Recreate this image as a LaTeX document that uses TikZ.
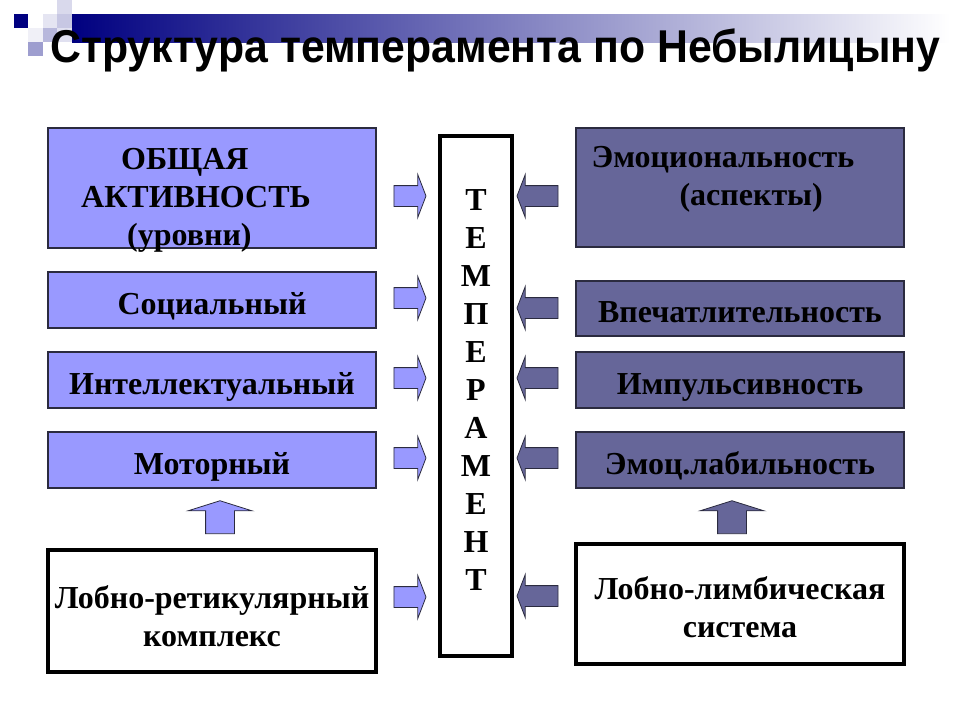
\documentclass[tikz,border=0pt]{standalone}
\usepackage{fontspec}
\setmainfont{Liberation Serif}
\setsansfont{Liberation Sans}
\usetikzlibrary{shapes.arrows}

\definecolor{lilac}{HTML}{9999FF}
\definecolor{slate}{HTML}{666699}
\definecolor{navy}{HTML}{000080}
\definecolor{edge}{HTML}{2B2B3F}

\tikzset{
	lbox/.style={rectangle,draw=edge,thick,fill=lilac,minimum width=164pt,minimum height=28pt,inner sep=0pt,
		text height=14pt,text depth=0pt},
	rbox/.style={lbox,fill=slate},
	wbox/.style={rectangle,draw=black,line width=2pt,fill=white,align=center,minimum width=164pt,inner sep=0pt},
	rarrow/.style={single arrow,draw=edge,fill=lilac,inner sep=0pt,text height=10pt,text depth=0pt,
		minimum height=16pt,minimum width=21pt,single arrow head extend=5.5pt,single arrow tip angle=138},
	larrow/.style={rarrow,fill=slate,minimum height=20.5pt,shape border rotate=180},
	uarrow/.style={single arrow,draw=edge,inner sep=0pt,text width=14pt,text height=0pt,text depth=0pt,
		minimum height=16.5pt,minimum width=31.5pt,single arrow head extend=8.75pt,single arrow tip angle=145,shape border rotate=90}
}

\begin{document}
\begin{tikzpicture}[x=0.5pt,y=-0.5pt,font=\bfseries\fontsize{16}{19}\selectfont]
	\useasboundingbox (0,0) rectangle (960,720);
	
	% header
	\shade[left color=navy,right color=white] (72,14) rectangle (950,42);
	\fill[navy] (14,14) rectangle (28,28);
	\fill[navy!15] (57,0) rectangle (72,14);
	\fill[navy!22] (57,14) rectangle (72,28);
	\fill[navy!10] (43,14) rectangle (57,28);
	\fill[navy!28] (43,28) rectangle (57,42);
	\fill[navy!12] (57,28) rectangle (72,42);
	\fill[navy!6] (28,28) rectangle (43,42);
	\fill[navy!38] (28,42) rectangle (43,56);
	\node[font=\sffamily\bfseries\fontsize{23}{27}\selectfont,anchor=base west,inner sep=0pt] (title) at (50,62)
		{\scalebox{0.93}[1]{Структура темперамента по Небылицыну}};
	
	% left column
	\node[lbox,minimum height=60pt,label={[align=left,xshift=-8pt,yshift=-6pt]center:{\hspace*{20pt}ОБЩАЯ\\АКТИВНОСТЬ\\\hspace*{23pt}(уровни)}}] (act) at (212,188) {};
	\node[lbox] (soc) at (212,300) {Социальный};
	\node[lbox] (int) at (212,380) {Интеллектуальный};
	\node[lbox] (mot) at (212,460) {Моторный};
	\node[wbox,minimum height=61pt,label={[align=center,yshift=-2.5pt]center:{Лобно-ретикулярный\\комплекс}}] (lrk) at (212,611) {};
	
	% temperament
	\node[rectangle,draw,line width=2pt,minimum width=36pt,minimum height=260pt,inner sep=0pt,
		label={[align=center,yshift=3pt]center:{Т\\Е\\М\\П\\Е\\Р\\А\\М\\Е\\Н\\Т}}] (temp) at (476,396) {};
	
	% right column
	\node[rbox,minimum height=59.5pt,label={[align=left,xshift=-8.5pt,yshift=4pt]center:{Эмоциональность\\\hspace*{44pt}(аспекты)}}] (emo) at (740,187.5) {};
	\node[rbox,minimum height=27.5pt] (imp) at (740,308.5) {Впечатлительность};
	\node[rbox] (ipl) at (740,380) {Импульсивность};
	\node[rbox] (lab) at (740,460) {Эмоц.лабильность};
	\node[wbox,minimum height=60pt,label={[align=center,yshift=-1.5pt]center:{Лобно-лимбическая\\система}}] (lls) at (740,604) {};
	
	% arrows
	\foreach \y/\n in {196/1,298/2,378/3,458/4,597/5}
		\node[rarrow] (ra\n) at (408,\y) {};
	\foreach \y/\n in {196/1,308/2,378/3,458/4,596/5}
		\node[larrow] (la\n) at (539.5,\y) {};
	\node[uarrow,fill=lilac] (ua1) at (220,519.5) {};
	\node[uarrow,fill=slate] (ua2) at (732,519.5) {};
	
\end{tikzpicture}
\end{document}
